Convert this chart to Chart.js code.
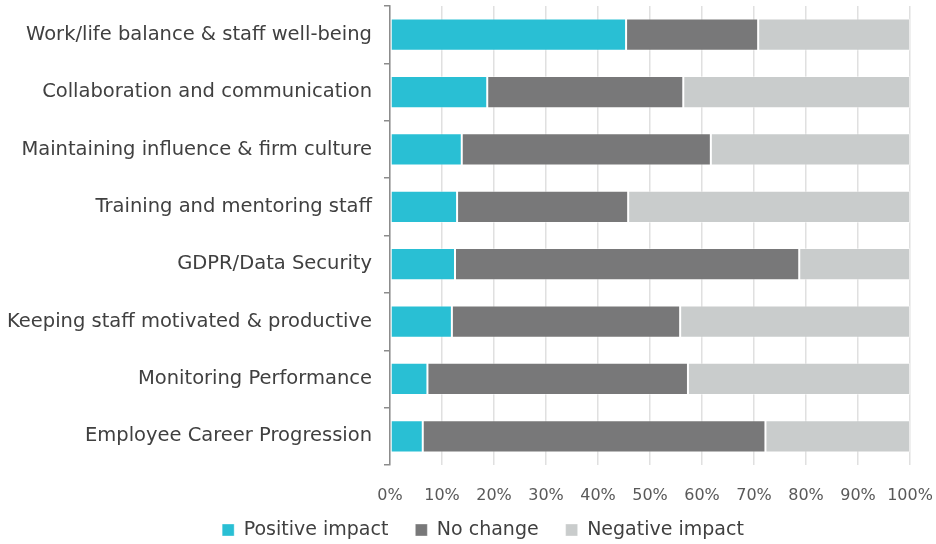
<!DOCTYPE html>
<html>
<head>
<meta charset="utf-8">
<script src="https://cdn.jsdelivr.net/npm/chart.js@4.4.1/dist/chart.umd.min.js"></script>
<style>
	html, body { margin: 0; padding: 0; background: #fff; }
	#wrap { width: 936px; height: 544px; }
</style>
</head>
<body>
<div id="wrap"><canvas id="results"></canvas></div>
<script>
let categories = [
	'Work/life balance & staff well-being',
	'Collaboration and communication',
	'Maintaining influence & firm culture',
	'Training and mentoring staff',
	'GDPR/Data Security',
	'Keeping staff motivated & productive',
	'Monitoring Performance',
	'Employee Career Progression'
];
let seriesNames = ['Positive impact', 'No change', 'Negative impact'];
let positive = [45.4, 18.7, 13.8, 12.9, 12.5, 11.9, 7.2, 6.3];
let noChange = [25.4, 37.7, 47.9, 32.9, 66.2, 43.9, 50.1, 65.9];
let negative = [29.2, 43.6, 38.3, 54.2, 21.3, 44.2, 42.7, 27.8];
let xTicks = [0, 10, 20, 30, 40, 50, 60, 70, 80, 90, 100];

let colors = ['#29bfd4', '#787879', '#c9cccc'];
let fontFamily = '"DejaVu Sans", sans-serif';

let ctx = document.getElementById('results').getContext('2d');
let mkSet = (i, data) => ({
	label: seriesNames[i],
	data: data,
	backgroundColor: colors[i],
	borderColor: 'rgba(255,255,255,0.35)',
	borderWidth: 1,
	borderSkipped: false,
	barPercentage: 0.56,
	categoryPercentage: 1
});

// legend padding sets both the item spacing and the box height,
// so keep the wide spacing but give the legend a short box and move it
let legendTweak = {
	id: 'legendTweak',
	afterInit: (chart) => {
		let legend = chart.legend;
		let fit = legend.fit.bind(legend);
		legend.fit = () => { fit(); legend.height = 39; };
	},
	afterLayout: (chart) => {
		let legend = chart.legend;
		legend.top = 493.5;
		legend.left += 15;
		legend.right += 15;
	}
};

let myChart = new Chart(ctx, {
	type: 'bar',
	data: {
		labels: categories,
		datasets: [mkSet(0, positive), mkSet(1, noChange), mkSet(2, negative)]
	},
	options: {
		indexAxis: 'y',
		responsive: true,
		maintainAspectRatio: false,
		animation: false,
		layout: { padding: 0 },
		scales: {
			x: {
				stacked: true,
				min: 0,
				max: 100,
				afterBuildTicks: (s) => { s.ticks = xTicks.map(v => ({ value: v })); },
				afterFit: (s) => { s.paddingRight = 26; s.height = 40; },
				grid: { color: '#e0e0e0', lineWidth: 1.5, drawTicks: false },
				border: { display: false },
				ticks: {
					callback: (v) => v + '%',
					color: '#595959',
					font: { family: fontFamily, size: 16 },
					padding: 21
				}
			},
			y: {
				stacked: true,
				afterFit: (s) => { s.width = 390; s.paddingTop = 6; },
				grid: { offset: true, drawOnChartArea: false, tickLength: 6, color: '#8c8c8c', lineWidth: 1.5 },
				border: { color: '#8c8c8c', width: 1.5 },
				ticks: {
					color: '#404040',
					font: { family: fontFamily, size: 19.5 },
					padding: 12
				}
			}
		},
		plugins: {
			legend: {
				position: 'bottom',
				labels: {
					boxWidth: 12,
					boxHeight: 12,
					color: '#404040',
					font: { family: fontFamily, size: 19 },
					padding: 27
				}
			},
			tooltip: { enabled: false }
		}
	},
	plugins: [legendTweak]
});
</script>
</body>
</html>
